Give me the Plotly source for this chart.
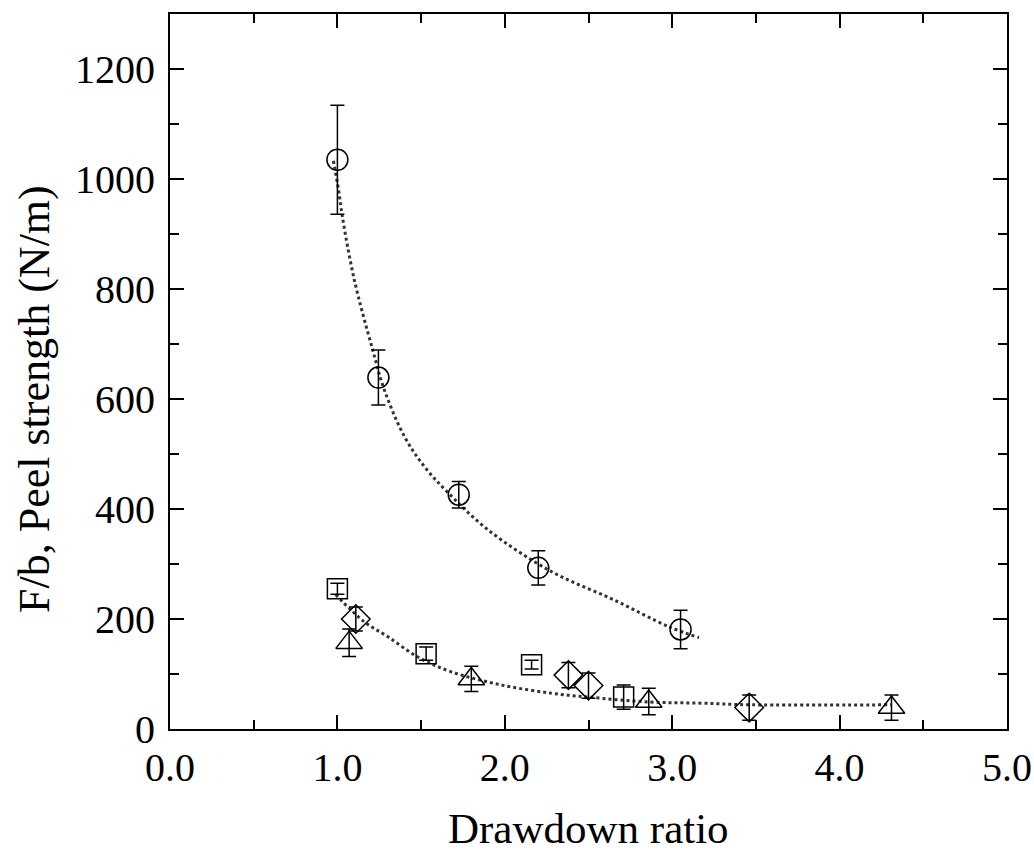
import plotly.graph_objects as go

# Data
circ_x = [1.00, 1.245, 1.725, 2.20, 3.05]
circ_y = [1035, 639, 426, 293, 181]
circ_e = [99, 50, 24, 31, 35]

sq_x = [1.00, 1.53, 2.16, 2.71]
sq_y = [255, 137, 117, 58]
sq_e = [10, 12, 8, 22]

dia_x = [1.11, 2.38, 2.50, 3.46]
dia_y = [200, 98, 79, 39]
dia_e = [22, 23, 23, 23]

tri_x = [1.07, 1.80, 2.86, 4.31]
tri_y = [157, 91, 50, 39]
tri_e = [25, 23, 24, 23]

fit1_x = [0.976, 1.006, 1.03, 1.10, 1.21, 1.28, 1.40, 1.52, 1.66, 1.90, 2.28, 2.65, 2.98, 3.16]
fit1_y = [1033, 982, 931, 818, 690, 617, 532, 477, 430, 362, 286, 235, 186, 166]

fit2_x = [0.99, 1.16, 1.30, 1.48, 1.68, 1.98, 2.28, 2.50, 2.87, 3.17, 3.47, 4.31]
fit2_y = [244, 195, 168, 131, 104, 80, 65, 58, 49, 47, 44, 44]

x_title = "Drawdown ratio"
y_title = "F/b, Peel strength (N/m)"

FONT = "Liberation Serif"

fig = go.Figure()

for fx, fy in [(fit1_x, fit1_y), (fit2_x, fit2_y)]:
    fig.add_trace(go.Scatter(x=fx, y=fy, mode="lines",
                             line=dict(color="#333333", width=3, dash="dot", shape="spline", smoothing=1.0),
                             showlegend=False, hoverinfo="skip"))

def add_series(xs, ys, es, symbol, size):
    fig.add_trace(go.Scatter(
        x=xs, y=ys, mode="markers",
        marker=dict(symbol=symbol, size=size, color="black", line=dict(color="black", width=1.5)),
        error_y=dict(type="data", array=es, visible=True, color="black", thickness=1.5, width=7),
        showlegend=False))

add_series(circ_x, circ_y, circ_e, "circle-open", 21)
add_series(sq_x, sq_y, sq_e, "square-open", 20)
add_series(dia_x, dia_y, dia_e, "diamond-open", 22)
add_series(tri_x, tri_y, tri_e, "triangle-up-open", 23)

axis_common = dict(
    showline=True, linewidth=2, linecolor="black", mirror="allticks",
    ticks="inside", ticklen=14, tickwidth=2, tickcolor="black",
    showgrid=False, zeroline=False, automargin=False,
    tickfont=dict(family=FONT, size=40, color="black"),
)

fig.update_xaxes(range=[0, 5], dtick=1, tickformat=".1f", ticklabelstandoff=2,
                 minor=dict(ticks="inside", ticklen=9, tickwidth=2, tickcolor="black", dtick=0.5),
                 **axis_common)
fig.update_yaxes(range=[0, 1300], dtick=200, ticklabelstandoff=5,
                 minor=dict(ticks="inside", ticklen=9, tickwidth=2, tickcolor="black", dtick=100),
                 **axis_common)

fig.add_annotation(text=x_title, xref="paper", yref="paper", x=0.5, y=0,
                   yshift=-99, xanchor="center", yanchor="middle", showarrow=False,
                   font=dict(family=FONT, size=43, color="black"))
fig.add_annotation(text=y_title, xref="paper", yref="paper", x=0, y=(729 - 399) / 715,
                   xshift=-136, xanchor="center", yanchor="middle", textangle=-90, showarrow=False,
                   font=dict(family=FONT, size=44, color="black"))

fig.update_layout(
    width=1034, height=855,
    margin=dict(l=170, r=27, t=14, b=126),
    plot_bgcolor="white", paper_bgcolor="white",
    font=dict(family=FONT, color="black"),
)

fig.write_html("out.html", config={"displayModeBar": False},
               post_script="document.body.style.margin='0';")
